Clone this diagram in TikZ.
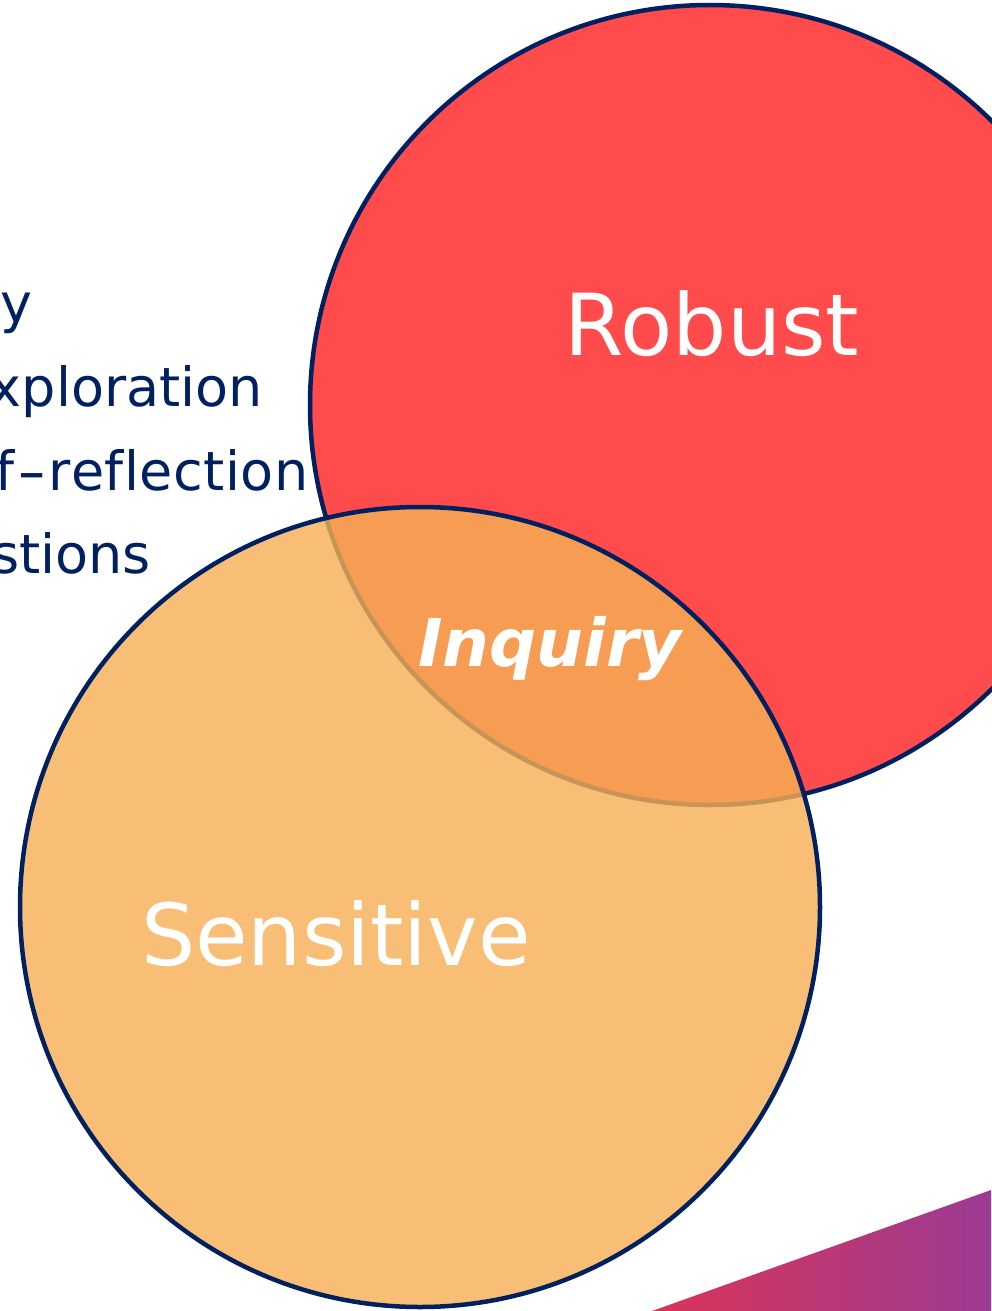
\documentclass[tikz,border=0pt]{standalone}
\usepackage{fontspec}
\setmainfont{DejaVu Sans}
\newfontfamily\dvs[Ligatures=NoCommon]{DejaVu Sans}
\definecolor{navy}{HTML}{002060}
\definecolor{robred}{HTML}{FF4B4B}
\definecolor{senorange}{HTML}{F6AF55}
\definecolor{gradl}{HTML}{DA3458}
\definecolor{gradr}{HTML}{9C3B93}
\tikzset{
  circ/.style={circle, draw=navy, line width=4.5pt, minimum size=800pt, inner sep=0pt},
  sidetext/.style={anchor=base west, text=navy, font=\dvs\fontsize{54}{60}\selectfont, inner sep=0pt},
  bigword/.style={text=white, font=\dvs\fontsize{85.5}{100}\selectfont, inner sep=0pt, anchor=base},
}
\begin{document}
\begin{tikzpicture}[x=1pt,y=-1pt]
\useasboundingbox (0,0) rectangle (991,1311);
% side text (behind circles)
\node[sidetext, anchor=base east] (t1) at (33,322) {y};
\node[sidetext, anchor=base east] (t2) at (263,406) {xploration};
\node[sidetext] (t3) at (-5,490) {f\kern3pt\scalebox{1.5}[1]{-}\kern2pt r\kern0.5pt e\kern0.5pt f\kern0.5pt l\kern0.5pt e\kern0.5pt c\kern0.5pt t\kern0.5pt i\kern0.5pt o\kern0.5pt n};
\node[sidetext, anchor=base east] (t4) at (151,573) {stions};
% gradient triangle
\coordinate (g1) at (652,1311);
\coordinate (g2) at (991,1190);
\coordinate (g3) at (991,1311);
\shade[left color=gradl, right color=gradr] (g1) -- (g2) -- (g3) -- cycle;
% circles
\node[circ, fill=robred] (robust) at (710,405) {};
\node[circ, fill=senorange, fill opacity=0.81] (sensitive) at (420,907) {};
\node[bigword] (rl) at (712,355) {Robust};
\node[bigword] (sl) at (336,965) {Sensitive};
\node[text=white, font=\dvs\bfseries\itshape\fontsize{66}{72}\selectfont, inner sep=0pt, anchor=base] (il) at (550,666) {Inquiry};
\end{tikzpicture}
\end{document}
